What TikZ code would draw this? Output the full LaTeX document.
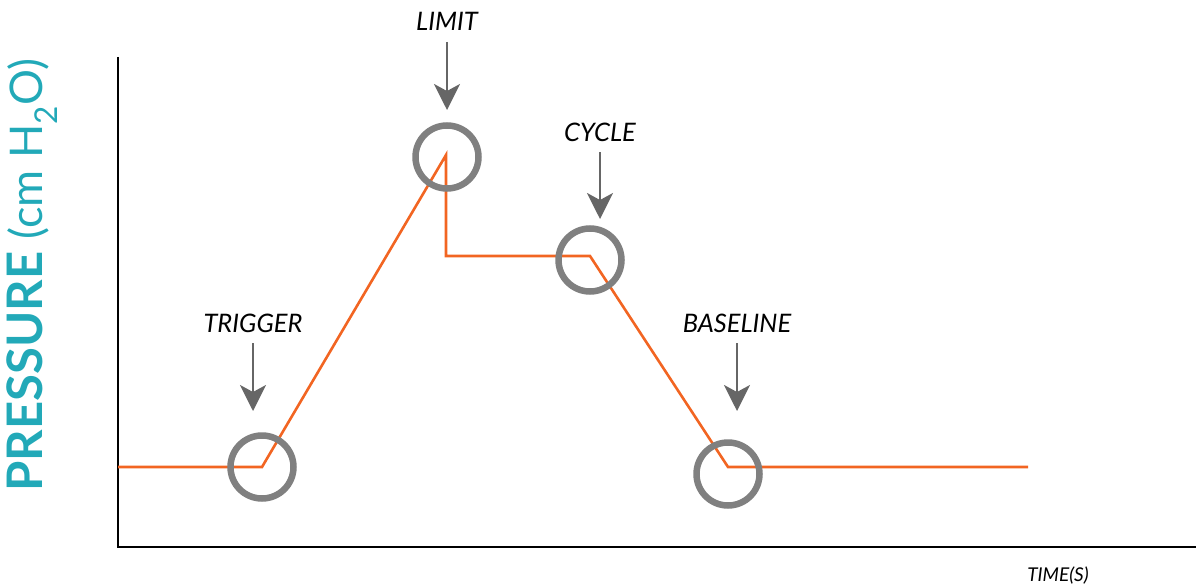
\documentclass[tikz,border=0pt]{standalone}
\usepackage{fontspec}
\setmainfont{Lato}
\usetikzlibrary{arrows.meta}
\definecolor{teal}{HTML}{22A9B8}
\definecolor{curveorange}{HTML}{F26522}
\definecolor{ringgray}{HTML}{808080}
\definecolor{arrowgray}{HTML}{666666}
\tikzset{
  axis/.style={line width=2pt, black},
  curve/.style={line width=2.6pt, curveorange, line join=miter},
  ring/.style={circle, draw=ringgray, line width=6.5pt, minimum size=63pt, inner sep=0pt},
  pointer/.style={line width=2pt, arrowgray, -{Stealth[length=26pt,width=26pt,inset=7pt]}},
  lbl/.style={font=\fontsize{25.5}{25.5}\selectfont\itshape, text=black, inner sep=0pt, anchor=base},
}
\begin{document}
\begin{tikzpicture}[x=1pt,y=-1pt]
\useasboundingbox (0,0) rectangle (1196,586);
% axes
\coordinate (ytop) at (118,57);
\coordinate (orig) at (118,547);
\coordinate (xend) at (1196,547);
\draw[axis] (ytop) -- (orig) -- (xend);
% y label
\node[rotate=90, text=teal, inner sep=0pt] (ylab) at (32,275)
  {\fontsize{49}{49}\selectfont\textbf{PRESSURE}\hspace{12pt}\fontsize{45}{45}\selectfont(cm H\textsubscript{2}O)};
% x label
\node[font=\fontsize{19}{19}\selectfont\itshape, inner sep=0pt] (xlab) at (1058,576) {TIME(S)};
% curve
\coordinate (p0) at (118,467);
\coordinate (p1) at (262,467);
\coordinate (p2) at (446,155);
\coordinate (p3) at (446,256);
\coordinate (p4) at (590,256);
\coordinate (p5) at (728,467);
\coordinate (p6) at (1028,467);
\draw[curve] (p0) -- (p1) -- (p2) -- (p3) -- (p4) -- (p5) -- (p6);
% rings
\node[ring] (ctrig) at (262,467) {};
\node[ring] (climit) at (447,157) {};
\node[ring] (ccycle) at (590,260) {};
\node[ring] (cbase) at (728,474) {};
% labels
\node[lbl] (ltrig) at (253,332) {TRIGGER};
\node[lbl] (llimit) at (447,31) {LIMIT};
\node[lbl] (lcycle) at (600,141) {CYCLE};
\node[lbl] (lbase) at (737,332) {BASELINE};
% arrow ends
\coordinate (atrig) at (253,411);
\coordinate (alimit) at (447,110);
\coordinate (acycle) at (600,219);
\coordinate (abase) at (737,411);
\draw[pointer] (ltrig.south |- 0,343) -- (atrig);
\draw[pointer] (llimit.south |- 0,42) -- (alimit);
\draw[pointer] (lcycle.south |- 0,152) -- (acycle);
\draw[pointer] (lbase.south |- 0,343) -- (abase);
\end{tikzpicture}
\end{document}
